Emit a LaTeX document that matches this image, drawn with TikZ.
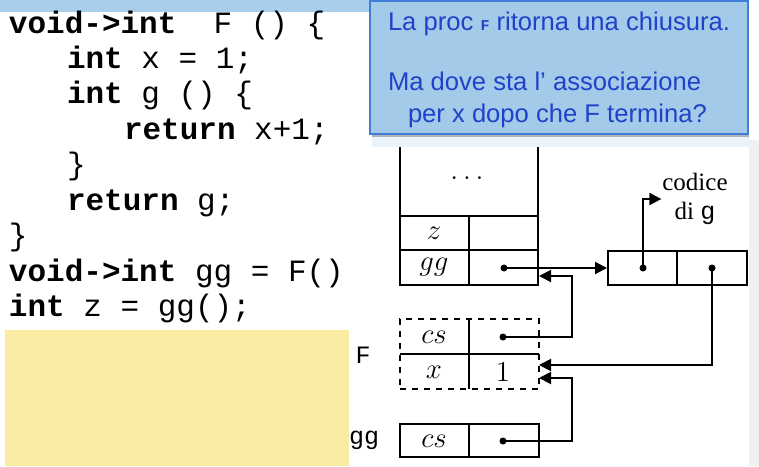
\documentclass[tikz,border=0pt]{standalone}
\usepackage{fontspec}
\usetikzlibrary{arrows.meta}
\newfontfamily\codef{Liberation Mono}
\newfontfamily\boxf{Liberation Sans}
\newfontfamily\timesf{Liberation Serif}
\definecolor{barblue}{RGB}{168,206,236}
\definecolor{msgfill}{RGB}{164,202,234}
\definecolor{msgline}{RGB}{62,126,214}
\definecolor{msgtext}{RGB}{30,66,200}
\definecolor{notey}{RGB}{249,236,162}

\begin{document}
\begin{tikzpicture}[x=0.5pt,y=-0.5pt,line width=1pt,
    code/.style={anchor=base west,inner sep=0pt,font=\codef\fontsize{15.5}{18}\selectfont},
    boxtxt/.style={anchor=base west,inner sep=0pt,text=msgtext,font=\boxf\fontsize{12.8}{15}\selectfont},
    lbl/.style={inner sep=0pt,font=\fontsize{14}{16}\selectfont},
    dot/.style={circle,fill,inner sep=0pt,minimum size=3.5pt},
    arr/.style={-{Triangle[length=6pt,width=6pt]}}]
        \useasboundingbox (0,0) rectangle (759,466);
        % slide background
        \fill[barblue] (0,0) rectangle (372,12);
        \fill[black!6] (749,140) rectangle (759,466);
        \fill[barblue!25] (372,134) rectangle (749,147);
        \fill[notey] (5,330) rectangle (349,466);
        % code
        \node[code] (c1) at (8,33) {\textbf{void->int}\ \ F () \{};
        \node[code] (c2) at (66,68) {\textbf{int} x = 1;};
        \node[code] (c3) at (66,103) {\textbf{int} g () \{};
        \node[code] (c4) at (123,139) {\textbf{return} x+1;};
        \node[code] (c5) at (66,174) {\}};
        \node[code] (c6) at (66,210) {\textbf{return} g;};
        \node[code] (c7) at (8,245) {\}};
        \node[code] (c8) at (8,281) {\textbf{void->int} gg = F()};
        \node[code] (c9) at (8,316) {\textbf{int} z = gg();};
        % callout
        \fill[black!30] (372,133) rectangle (749,137);
        \node[draw=msgline,fill=msgfill,line width=1.2pt,anchor=north west,
              minimum width=189pt,minimum height=66.5pt,inner sep=0pt] (msg) at (369,0) {};
        \node[boxtxt] (m1) at (387,30) {La proc {\codef\bfseries\fontsize{7.5}{8}\selectfont F} ritorna una chiusura.};
        \node[boxtxt] (m2) at (387,90) {Ma dove sta l’ associazione};
        \node[boxtxt] (m3) at (407,122) {per x dopo che F termina?};
        % stack
        \draw (400,147) -- (400,285) -- (538,285) -- (538,147);
        \draw (400,216) -- (538,216);
        \draw (400,250) -- (538,250);
        \draw (469,216) -- (469,285);
        \node[lbl] (etc) at (467,178) {$\ldots$};
        \node[lbl] (zl) at (434,233) {$z$};
        \node[lbl] (ggl) at (434,267) {$gg$};
        \node[dot] (ggp) at (504,268) {};
        \coordinate (ggin) at (539,276);
        % closure
        \node[draw,minimum width=69.5pt,minimum height=17pt,inner sep=0pt] (clos) at (677.5,268) {};
        \draw (677,251) -- (677,285);
        \node[dot] (cp) at (643,268) {};
        \node[dot] (ep) at (712,268) {};
        \node[lbl,align=center,font=\timesf\fontsize{12.5}{14.5}\selectfont] (cod) at (695,199) {codice\\di {\codef g}};
        % frame of F
        \node[draw,dashed,minimum width=69.5pt,minimum height=35pt,inner sep=0pt] (fF) at (469.5,354) {};
        \draw (400,354) -- (539,354);
        \draw (469,319) -- (469,389);
        \node[lbl] (fcsl) at (434,337) {$cs$};
        \node[lbl] (fxl) at (434,372) {$x$};
        \node[lbl] (fxv) at (503,372) {$1$};
        \node[dot] (fcs) at (503,337) {};
        \node[lbl,font=\codef\fontsize{12.5}{14}\selectfont] (fname) at (363,355) {F};
        \coordinate (xin) at (539,365);
        \coordinate (xin2) at (539,378);
        % frame of gg
        \node[draw,minimum width=69.5pt,minimum height=16.5pt,inner sep=0pt] (ggf) at (469.5,440.5) {};
        \draw (469,424) -- (469,457);
        \node[lbl] (gcsl) at (434,441) {$cs$};
        \node[dot] (gcs) at (503,441) {};
        \node[lbl,font=\codef\fontsize{12.5}{14}\selectfont] (ggname) at (364,440) {gg};
        % pointers
        \draw[arr] (ggp.center) -- (clos.west);
        \draw[arr] (cp.center) |- (cod.west);
        \draw[arr] (ep.center) |- (xin);
        \draw[arr] (fcs.center) -- ++(69,0) |- (ggin);
        \draw[arr] (gcs.center) -- ++(69,0) |- (xin2);
\end{tikzpicture}
\end{document}
